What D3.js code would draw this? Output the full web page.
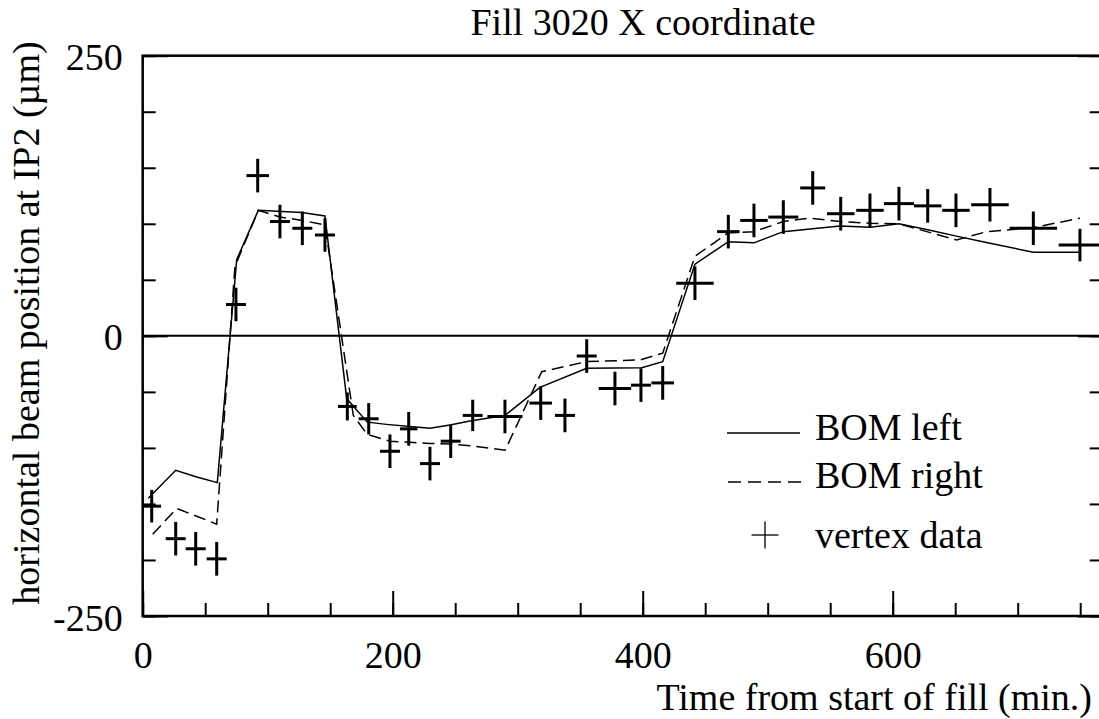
<!DOCTYPE html>
<html>
<head>
<meta charset="utf-8">
<script src="https://cdn.jsdelivr.net/npm/d3@7"></script>
<style>
  html, body { margin: 0; padding: 0; background: #fff; }
  svg { display: block; }
  svg text { font-family: "Liberation Serif", "Times New Roman", "DejaVu Serif", serif !important; fill: #000; }
</style>
</head>
<body>
<svg id="chart" width="1099" height="719"></svg>
<script>
// Vertex measurements: time (min), horizontal position (µm) and error bar half-widths
const vertexTime = [7.2, 26.4, 42.4, 59.2, 74.6, 92, 109.8, 127.7, 145.8, 163.7, 180.8, 197.8, 212.8, 229.8, 246.4, 264,
  289.8, 318.4, 337.8, 355.2, 377.8, 398.6, 416, 441.8, 468.5, 489, 512.5, 536, 558.4, 581.8, 605, 628, 650.6, 677.8, 712.5, 749.8];
const vertexPos = [-152, -181, -190, -199, 28, 143, 102, 96, 90, -63, -74, -103, -83, -114, -94, -71,
  -72, -60, -71, -18, -47, -44, -42, 47, 93, 103, 106, 132, 109, 112, 118, 116, 112, 117, 96, 81];
const vertexTimeErr = [7.5, 8, 8, 8, 8, 9, 8, 8, 8, 7.5, 8, 8, 7, 8, 8, 8,
  14, 9, 8, 8, 13, 8, 9, 15, 9, 11, 12, 10, 11, 11, 12, 11, 11, 15, 19, 17];
const vertexPosErr = [14.5, 15, 15, 15, 15, 15, 15, 15, 15, 12.5, 14, 15, 15, 15, 15, 14,
  15, 15, 15, 15, 15, 15, 15, 15, 15, 15, 15, 15, 15, 15, 15, 15, 15, 15, 15, 14.5];

// BOM left beam position monitor
const bomLeftTime = [4.5, 26.4, 43.2, 59.7, 75.2, 92.5, 127.2, 145.8, 163.2, 179.7, 195, 213.8, 229.8, 245.8, 261.8, 278,
  289.8, 317.8, 355.2, 399.2, 416, 441.8, 468.5, 489, 512.5, 536, 558, 582, 605, 628, 651, 675, 712.5, 749.8];
const bomLeftPos = [-145, -120, -126, -131, 68, 112, 110, 107, -56, -77, -79, -81, -82.5, -79.5, -76, -73,
  -71, -46, -29, -28.4, -23, 64, 84, 83, 93, 95.5, 98, 97, 100, 94.6, 89, 83.3, 74.6, 74.6];

// BOM right beam position monitor
const bomRightTime = [8, 27.2, 43.2, 59.2, 73.8, 92.5, 109.8, 127.7, 145.8, 168.5, 179.7, 197.8, 213.8, 229.8, 246.4, 261.8,
  276.5, 290, 319.2, 355.2, 397.8, 416, 441.8, 468.5, 489, 512.5, 533.8, 558, 582, 605, 627.2, 651.2, 675.2, 712.5, 749.8];
const bomRightPos = [-177, -154, -161, -168, 62, 112, 106, 103, 99, -71, -88, -94, -95, -96, -96.5, -98,
  -100, -102, -32, -23, -21.5, -15.5, 71, 92, 93, 102, 105, 102, 100.5, 100, 93, 85.6, 93, 96.6, 105];

// Axis tick values and labels
const xMinorTicks = d3.range(0, 751, 50);
const xMajorTicks = [0, 200, 400, 600];
const yMinorTicks = d3.range(-250, 251, 50);
const yMajorTicks = [-250, 0, 250];
const yLabelTicks = [-250, 0, 250];

const titleText = "Fill 3020 X coordinate";
const xTitle = "Time from start of fill (min.)";
const yTitle = "horizontal beam position at IP2 (µm)";
const legendLabels = ["BOM left", "BOM right", "vertex data"];

const FONT = '"Liberation Serif", "Times New Roman", "DejaVu Serif", serif';
const fontSize = 38;
const plain = d => String(d);   // ASCII hyphen for negatives

const svg = d3.select("#chart");

const x = d3.scaleLinear().domain([0, 768]).range([142.7, 1102.7]);
const y = d3.scaleLinear().domain([-250, 250]).range([616, 55.7]);

const x0 = x(0), x1 = x(768), yTop = y(250), yBot = y(-250);

// zero line
svg.append("line")
  .attr("x1", x0).attr("x2", x1)
  .attr("y1", y(0)).attr("y2", y(0))
  .attr("stroke", "#000").attr("stroke-width", 2);

// tick marks, pointing into the plot
function tickGroup(axis, tx, ty) {
  const g = svg.append("g").attr("transform", `translate(${tx},${ty})`).call(axis);
  g.select(".domain").remove();
  g.selectAll(".tick line").attr("stroke", "#000").attr("stroke-width", 2);
  g.selectAll(".tick text").remove();
  return g;
}
tickGroup(d3.axisTop(x).tickValues(xMinorTicks).tickSize(13), 0, yBot);
tickGroup(d3.axisTop(x).tickValues(xMajorTicks).tickSize(25), 0, yBot);
tickGroup(d3.axisRight(y).tickValues(yMinorTicks).tickSize(13), x0, 0);
tickGroup(d3.axisRight(y).tickValues(yMajorTicks).tickSize(25), x0, 0);
tickGroup(d3.axisLeft(y).tickValues(yMinorTicks).tickSize(13), x1, 0);
tickGroup(d3.axisLeft(y).tickValues(yMajorTicks).tickSize(25), x1, 0);

// frame
svg.append("rect")
  .attr("x", x0).attr("y", yTop)
  .attr("width", x1 - x0).attr("height", yBot - yTop)
  .attr("fill", "none").attr("stroke", "#000").attr("stroke-width", 2.5);

// tick labels
const xLab = svg.append("g").attr("transform", `translate(0,${yBot})`)
  .call(d3.axisBottom(x).tickValues(xMajorTicks).tickSize(0).tickFormat(plain));
xLab.attr("font-family", FONT).attr("font-size", fontSize);
xLab.select(".domain").remove();
xLab.selectAll("text")
  .attr("y", 52).attr("dy", null)
  .attr("font-family", FONT)
  .style("font-size", fontSize + "px");

const yLab = svg.append("g").attr("transform", `translate(${x0},0)`)
  .call(d3.axisLeft(y).tickValues(yLabelTicks).tickSize(0).tickFormat(plain));
yLab.attr("font-family", FONT).attr("font-size", fontSize);
yLab.select(".domain").remove();
yLab.selectAll("text")
  .attr("x", -20).attr("y", 14).attr("dy", null)
  .attr("font-family", FONT)
  .style("font-size", fontSize + "px");

// titles
svg.append("text")
  .attr("x", 643).attr("y", 35)
  .attr("text-anchor", "middle")
  .attr("font-family", FONT)
  .style("font-size", fontSize + "px")
  .text(titleText);

svg.append("text")
  .attr("x", 1092).attr("y", 710)
  .attr("text-anchor", "end")
  .attr("font-family", FONT)
  .style("font-size", fontSize + "px")
  .text(xTitle);

svg.append("text")
  .attr("transform", "translate(39,323) rotate(-90)")
  .attr("text-anchor", "middle")
  .attr("font-family", FONT)
  .style("font-size", fontSize + "px")
  .text(yTitle);

// BOM lines
const line = d3.line().x(d => x(d[0])).y(d => y(d[1]));
const leftData = d3.zip(bomLeftTime, bomLeftPos);
const rightData = d3.zip(bomRightTime, bomRightPos);

svg.append("path")
  .datum(rightData)
  .attr("d", line)
  .attr("fill", "none").attr("stroke", "#000")
  .attr("stroke-width", 1.5).attr("stroke-dasharray", "12,6");

svg.append("path")
  .datum(leftData)
  .attr("d", line)
  .attr("fill", "none").attr("stroke", "#000")
  .attr("stroke-width", 1.5);

// vertex data crosses
const vertexData = vertexTime.map((t, i) => ({
  t, v: vertexPos[i], et: vertexTimeErr[i], ev: vertexPosErr[i]
}));
const crosses = svg.append("g").selectAll("g").data(vertexData).join("g");
crosses.append("line")
  .attr("x1", d => x(d.t - d.et)).attr("x2", d => x(d.t + d.et))
  .attr("y1", d => y(d.v)).attr("y2", d => y(d.v))
  .attr("stroke", "#000").attr("stroke-width", 3);
crosses.append("line")
  .attr("x1", d => x(d.t)).attr("x2", d => x(d.t))
  .attr("y1", d => y(d.v - d.ev)).attr("y2", d => y(d.v + d.ev))
  .attr("stroke", "#000").attr("stroke-width", 3);

// legend
const legend = svg.append("g");
legend.append("line")
  .attr("x1", 727).attr("x2", 800).attr("y1", 433).attr("y2", 433)
  .attr("stroke", "#000").attr("stroke-width", 1.3);
legend.append("line")
  .attr("x1", 728).attr("x2", 806).attr("y1", 482).attr("y2", 482)
  .attr("stroke", "#000").attr("stroke-width", 1.3).attr("stroke-dasharray", "13,7");
legend.append("line")
  .attr("x1", 751.5).attr("x2", 778.5).attr("y1", 535).attr("y2", 535)
  .attr("stroke", "#000").attr("stroke-width", 1.3);
legend.append("line")
  .attr("x1", 765).attr("x2", 765).attr("y1", 521.5).attr("y2", 548.5)
  .attr("stroke", "#000").attr("stroke-width", 1.3);
const legendY = [440, 487.5, 548];
legend.selectAll("text.lg").data(legendLabels).join("text")
  .attr("class", "lg")
  .attr("x", 815).attr("y", (d, i) => legendY[i])
  .attr("font-family", FONT)
  .style("font-size", fontSize + "px")
  .text(d => d);
</script>
</body>
</html>
